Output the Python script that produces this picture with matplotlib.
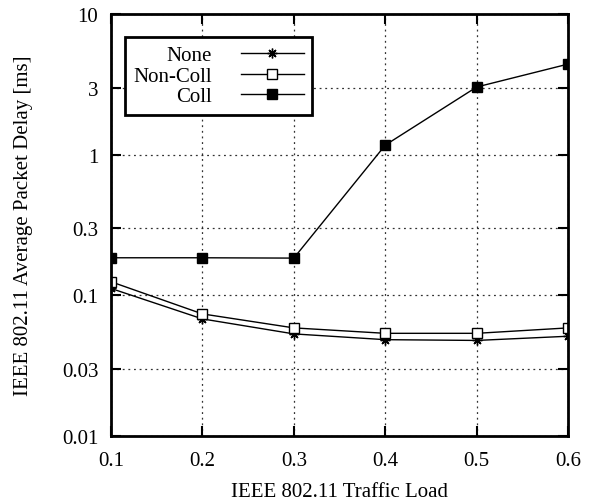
import matplotlib
matplotlib.use("Agg")
import matplotlib.pyplot as plt
from matplotlib.ticker import FixedLocator, FixedFormatter, NullLocator

plt.rcParams['font.family'] = ['Liberation Serif', 'DejaVu Serif']

load = [0.1, 0.2, 0.3, 0.4, 0.5, 0.6]
none_delay = [0.112, 0.068, 0.0532, 0.0484, 0.0478, 0.0512]
noncoll_delay = [0.125, 0.0738, 0.0587, 0.0537, 0.0537, 0.0587]
coll_delay = [0.185, 0.185, 0.184, 1.17, 3.03, 4.41]

xticks = [0.1, 0.2, 0.3, 0.4, 0.5, 0.6]
xticklabels = ['0.1', '0.2', '0.3', '0.4', '0.5', '0.6']
yticks = [0.01, 0.03, 0.1, 0.3, 1, 3, 10]
yticklabels = ['0.01', '0.03', '0.1', '0.3', '1', '3', '10']

FS = 15

fig = plt.figure(figsize=(5.9, 5.02), dpi=100)
ax = fig.add_axes([0.188, 0.1295, 0.775, 0.8405])

ax.plot(load, none_delay, color='black', lw=1.0, marker=(8, 2, 0), ms=7,
        mew=1.0, label='None')
ax.plot(load, noncoll_delay, color='black', lw=1.0, marker='s', ms=6.5,
        mfc='white', mec='black', mew=1.0, label='Non-Coll')
ax.plot(load, coll_delay, color='black', lw=1.0, marker='s', ms=6.5,
        mfc='black', mec='black', label='Coll')

ax.set_yscale('log')
ax.set_xlim(0.1, 0.6)
ax.set_ylim(0.01, 10)
ax.xaxis.set_major_locator(FixedLocator(xticks))
ax.xaxis.set_major_formatter(FixedFormatter(xticklabels))
ax.yaxis.set_major_locator(FixedLocator(yticks))
ax.yaxis.set_major_formatter(FixedFormatter(yticklabels))
ax.yaxis.set_minor_locator(NullLocator())
ax.xaxis.set_minor_locator(NullLocator())

ax.tick_params(axis='both', which='major', direction='in', length=7, width=1.5,
               top=True, right=True, labelsize=FS, pad=9, colors='black')
ax.tick_params(axis='x', pad=11)

for s in ax.spines.values():
    s.set_linewidth(2.0)
    s.set_color('black')

ax.grid(True, which='major', linestyle=(0, (1.5, 3)), color='black', lw=0.9, alpha=0.8)

ax.set_xlabel('IEEE 802.11 Traffic Load', fontsize=FS, labelpad=8.5)
ax.set_ylabel('IEEE 802.11 Average Packet Delay [ms]', fontsize=FS, labelpad=21)

leg = ax.legend(loc='upper left', bbox_to_anchor=(0.031, 0.945), borderaxespad=0,
                markerfirst=False, handlelength=3.0, handletextpad=1.4,
                fontsize=FS, fancybox=False, framealpha=1, edgecolor='black',
                labelspacing=0.05, borderpad=0.4)
leg.get_frame().set_linewidth(2.0)

fig.savefig('out.png', dpi=100)
